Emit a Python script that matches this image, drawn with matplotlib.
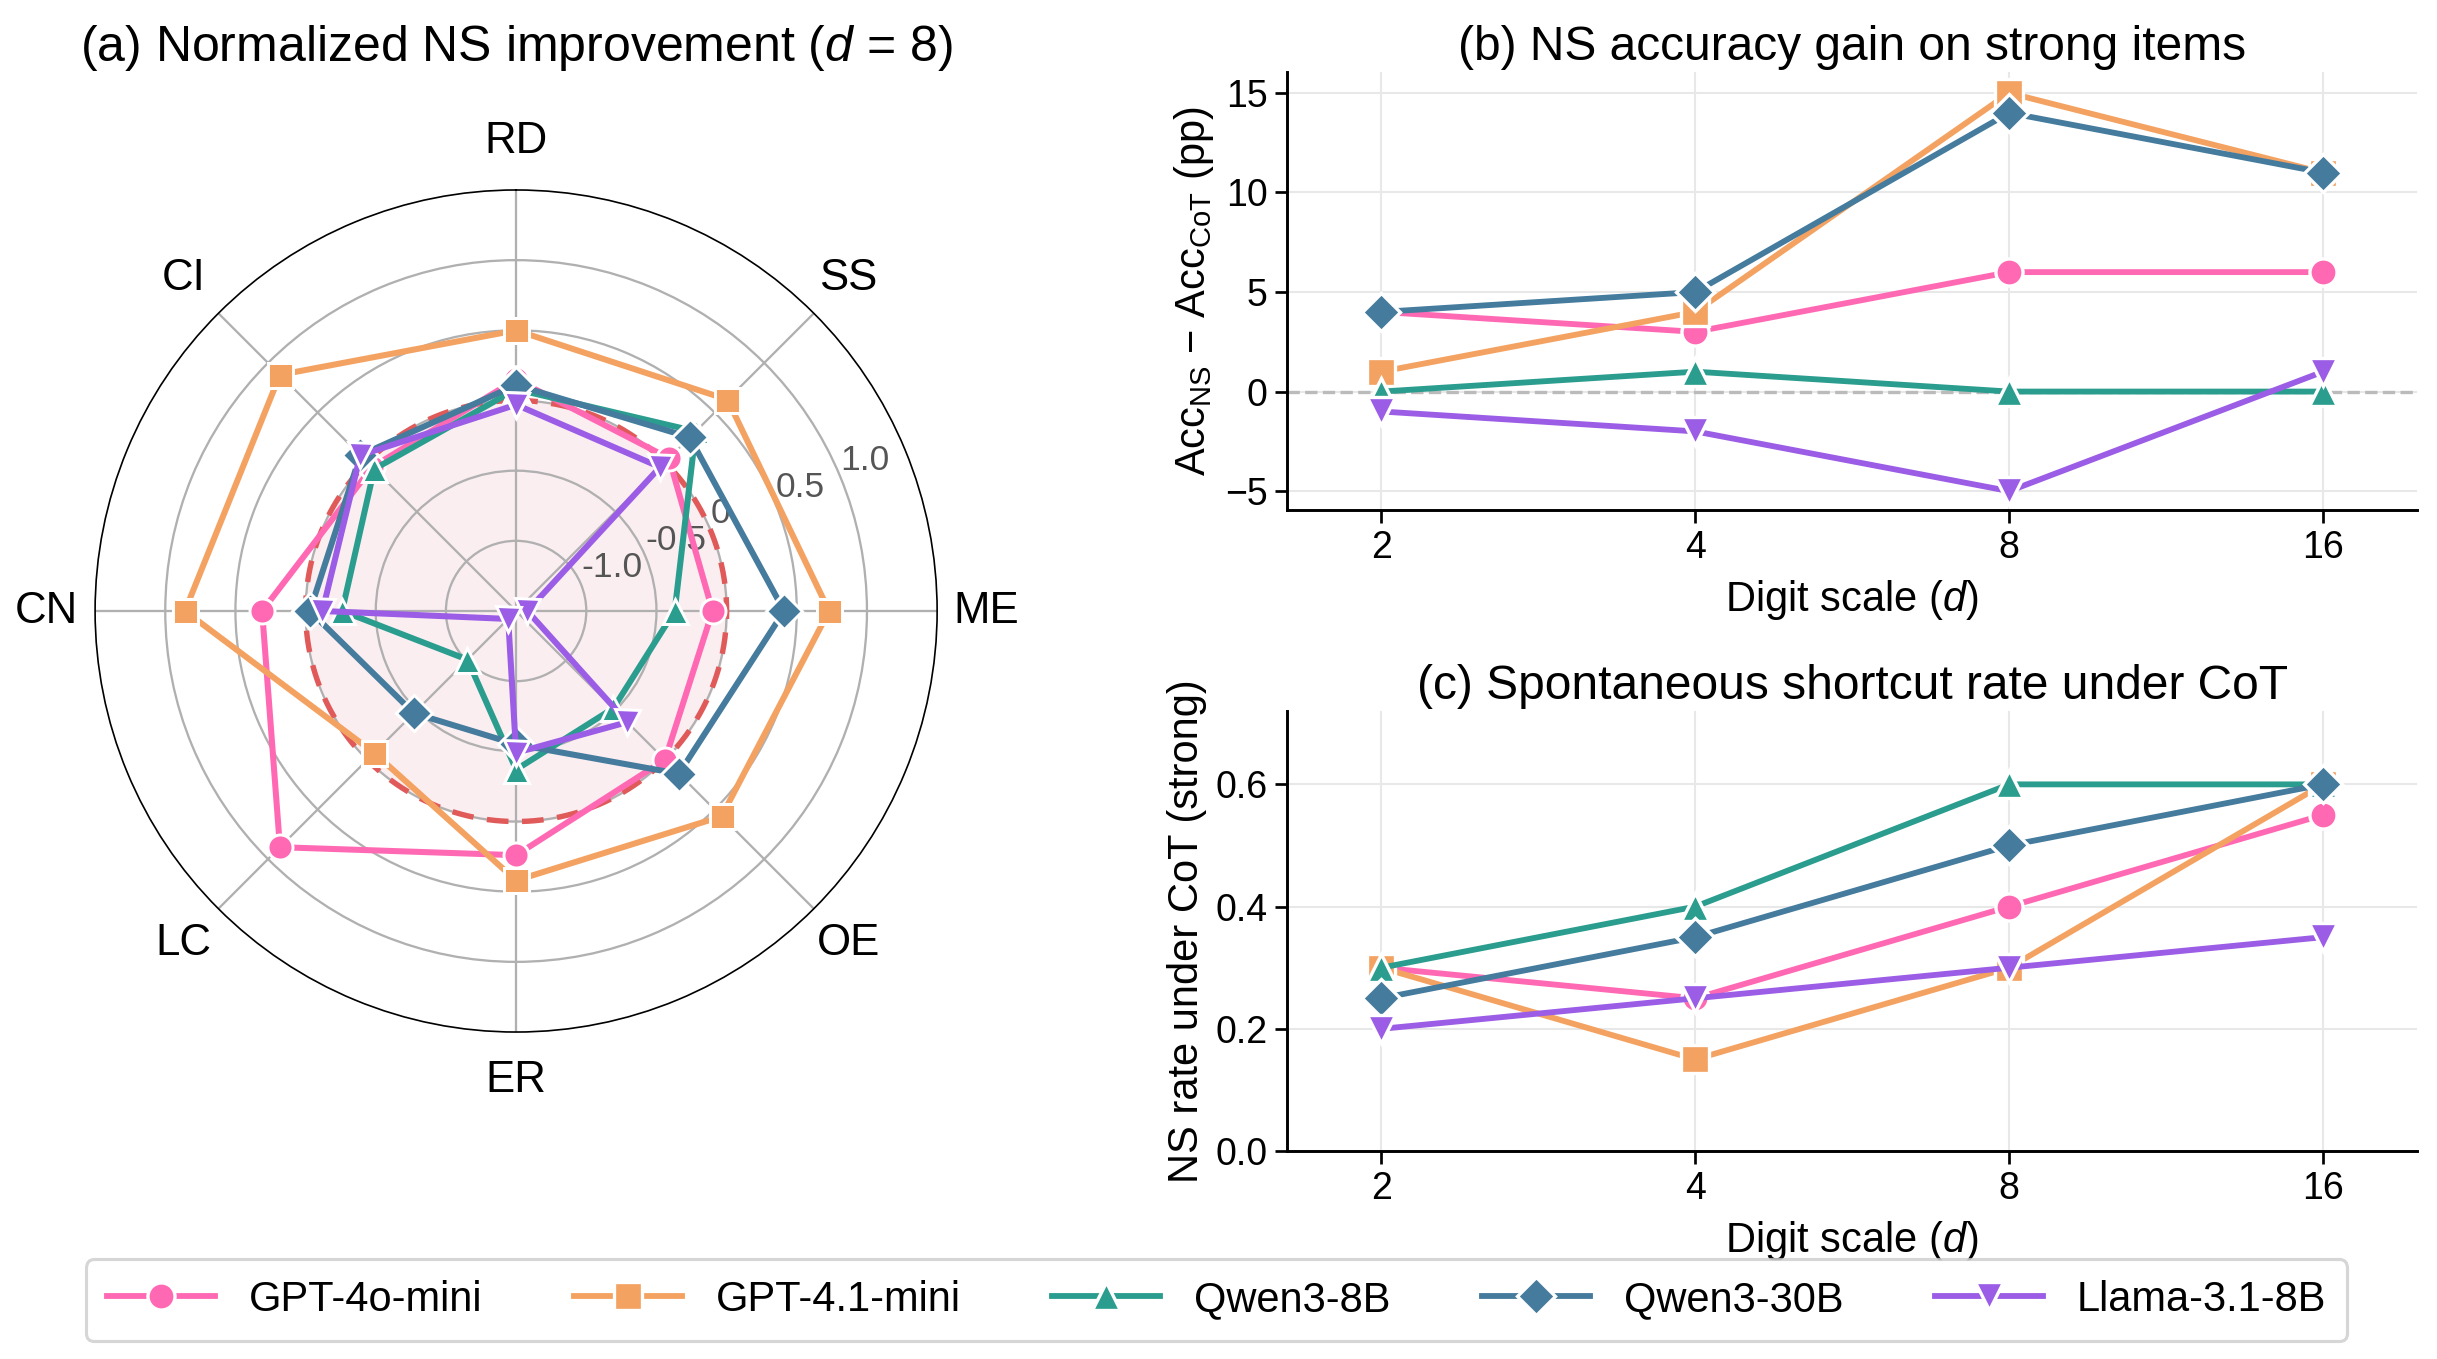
import numpy as np
import matplotlib
matplotlib.use("Agg")
import matplotlib.pyplot as plt

plt.rcParams['font.family'] = ['Liberation Sans', 'DejaVu Sans']
plt.rcParams['mathtext.fontset'] = 'custom'
plt.rcParams['mathtext.rm'] = 'Liberation Sans'
plt.rcParams['mathtext.it'] = 'Liberation Sans:italic'

models = ["GPT-4o-mini", "GPT-4.1-mini", "Qwen3-8B", "Qwen3-30B", "Llama-3.1-8B"]
colors = ["#FF69B4", "#F4A261", "#2A9D8F", "#457B9D", "#9B5DE5"]
markers = ["o", "s", "^", "D", "v"]

# radar (d = 8), clockwise from top
radar_cats = ["RD", "SS", "ME", "OE", "ER", "LC", "CN", "CI"]
radar_vals = {
    "GPT-4o-mini":  [0.15, 0.04, -0.10, 0.00, 0.24, 0.88, 0.31, -0.05],
    "GPT-4.1-mini": [0.50, 0.63, 0.73, 0.57, 0.42, -0.07, 0.86, 0.88],
    "Qwen3-8B":     [0.08, 0.31, -0.37, -0.52, -0.37, -1.01, -0.26, -0.07],
    "Qwen3-30B":    [0.11, 0.25, 0.41, 0.14, -0.55, -0.47, -0.03, 0.07],
    "Llama-3.1-8B": [-0.03, -0.05, -1.42, -0.38, -0.49, -1.42, -0.12, 0.07],
}

digits = ["2", "4", "8", "16"]
gain = {
    "GPT-4o-mini":  [4, 3, 6, 6],
    "GPT-4.1-mini": [1, 4, 15, 11],
    "Qwen3-8B":     [0, 1, 0, 0],
    "Qwen3-30B":    [4, 5, 14, 11],
    "Llama-3.1-8B": [-1, -2, -5, 1],
}
ns_rate = {
    "GPT-4o-mini":  [0.30, 0.25, 0.40, 0.55],
    "GPT-4.1-mini": [0.30, 0.15, 0.30, 0.60],
    "Qwen3-8B":     [0.30, 0.40, 0.60, 0.60],
    "Qwen3-30B":    [0.25, 0.35, 0.50, 0.60],
    "Llama-3.1-8B": [0.20, 0.25, 0.30, 0.35],
}

fig = plt.figure(figsize=(16.253, 9.06), dpi=150)

# ---- (a) radar
ax = fig.add_axes([0.039, 0.2406, 0.3454, 0.6196], projection="polar")
ax.set_theta_zero_location("N")
ax.set_theta_direction(-1)
ang = np.linspace(0, 2 * np.pi, len(radar_cats), endpoint=False)
rmin, rmax = -1.5, 1.5
circ = np.linspace(0, 2 * np.pi, 400)
ax.fill_between(circ, rmin, 0, color="#FBEEF1", zorder=0)
ax.plot(circ, np.zeros_like(circ), ls="--", color="#E05A5A", lw=2.6, zorder=2.5,
        dashes=(4, 2.5))
for m, c, mk in zip(models, colors, markers):
    v = radar_vals[m]
    ax.plot(np.append(ang, ang[0]), v + v[:1], color=c, lw=2.9, marker=mk,
            ms=12, mec="white", mew=1.4, zorder=3)
ax.set_ylim(rmin, rmax)
ax.set_yticks([-1.0, -0.5, 0.0, 0.5, 1.0])
ax.set_yticklabels(["-1.0", "-0.5", "0", "0.5", "1.0"], color="#555555", fontsize=17)
ax.set_rlabel_position(67.5)
ax.set_xticks(ang)
ax.set_xticklabels(radar_cats, fontsize=21)
ax.tick_params(axis="x", pad=13)
ax.grid(color="#b0b0b0", lw=1.1)
ax.spines["polar"].set_color("black")
ax.set_title(r"(a) Normalized NS improvement ($d$ = 8)", fontsize=24, pad=62)

# ---- (b) accuracy gain
x = np.arange(len(digits))
axb = fig.add_axes([0.528, 0.6247, 0.4635, 0.3223])
axb.axhline(0, color="#bbbbbb", ls="--", lw=1.6, zorder=1)
for m, c, mk in zip(models, colors, markers):
    axb.plot(x, gain[m], color=c, lw=2.8, marker=mk, ms=13, mec="white",
             mew=1.6, zorder=3)
axb.set_xticks(x)
axb.set_xticklabels(digits)
axb.set_xlim(-0.3, 3.3)
axb.set_ylim(-5.95, 16.05)
axb.set_yticks([-5, 0, 5, 10, 15])
axb.set_xlabel(r"Digit scale ($d$)", fontsize=20, labelpad=6)
axb.set_ylabel(r"Acc$_{\mathrm{NS}}$ $-$ Acc$_{\mathrm{CoT}}$ (pp)", fontsize=20)
axb.set_title("(b) NS accuracy gain on strong items", fontsize=23)

# ---- (c) shortcut rate
axc = fig.add_axes([0.528, 0.153, 0.4635, 0.3238])
for m, c, mk in zip(models, colors, markers):
    axc.plot(x, ns_rate[m], color=c, lw=2.8, marker=mk, ms=13, mec="white",
             mew=1.6, zorder=3, label=m)
axc.set_xticks(x)
axc.set_xticklabels(digits)
axc.set_xlim(-0.3, 3.3)
axc.set_ylim(0, 0.72)
axc.set_yticks([0.0, 0.2, 0.4, 0.6])
axc.set_xlabel(r"Digit scale ($d$)", fontsize=20, labelpad=6)
axc.set_ylabel("NS rate under CoT (strong)", fontsize=20)
axc.set_title("(c) Spontaneous shortcut rate under CoT", fontsize=23)

for a in (axb, axc):
    a.spines["top"].set_visible(False)
    a.spines["right"].set_visible(False)
    a.spines["left"].set_linewidth(1.4)
    a.spines["bottom"].set_linewidth(1.4)
    a.grid(color="#e8e8e8", lw=1.0)
    a.set_axisbelow(True)
    a.tick_params(labelsize=18, width=1.3, length=6)

handles, labels = axc.get_legend_handles_labels()
leg = fig.legend(handles, labels, loc="center", bbox_to_anchor=(0.499, 0.0434),
                 ncol=5, fontsize=20, frameon=True, handlelength=2.6,
                 columnspacing=2.2, borderpad=0.5)
leg.get_frame().set_edgecolor("#cccccc")
leg.get_frame().set_linewidth(1.5)

fig.savefig("out.png", dpi=150)
